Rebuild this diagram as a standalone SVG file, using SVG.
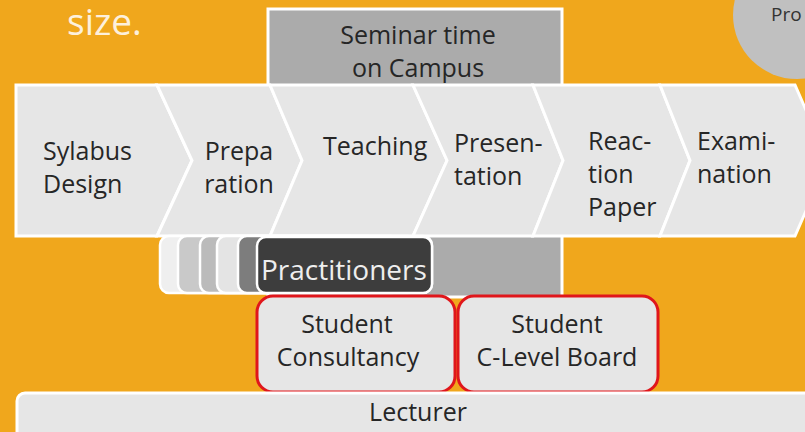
<svg xmlns="http://www.w3.org/2000/svg" width="805" height="432" viewBox="0 0 805 432">
<style>
  text { font-family: "Open Sans", "Noto Sans", "DejaVu Sans", sans-serif; fill: #262626; }
  .lbl { font-size: 25px; }
  .chev { fill: #E6E6E6; stroke: #FFFFFF; stroke-width: 3; stroke-linejoin: miter; }
  .stack { stroke: #FFFFFF; stroke-width: 2.5; }
  .red { fill: #E6E6E6; stroke: #E0161B; stroke-width: 3; }
</style>
<rect x="0" y="0" width="805" height="432" fill="#F0A71C"/>
<g id="title">
  <text x="67" y="35" style="font-size:37px; fill:#FDF0DC;">size.</text>
</g>
<g id="pro-circle">
  <circle cx="797" cy="15" r="64" fill="#C0C0C0"/>
  <text x="771" y="21" style="font-size:19px; fill:#333333;">Pro</text>
</g>
<g id="seminar">
  <rect x="268" y="9" width="294" height="288" fill="#ABABAB" stroke="#FFFFFF" stroke-width="3"/>
  <text class="lbl" x="418" y="44" text-anchor="middle">Seminar time</text>
  <text class="lbl" x="418" y="77" text-anchor="middle">on Campus</text>
</g>
<g id="process">
  <g id="sylabus">
    <path class="chev" d="M16,85 L157,85 L192,160.5 L157,236 L16,236 Z"/>
    <text class="lbl" x="43" y="160">Sylabus</text>
    <text class="lbl" x="43" y="193">Design</text>
  </g>
  <g id="preparation">
    <path class="chev" d="M157,85 L270,85 L302,160.5 L270,236 L157,236 L192,160.5 Z"/>
    <text class="lbl" x="239" y="160" text-anchor="middle">Prepa</text>
    <text class="lbl" x="239" y="193" text-anchor="middle">ration</text>
  </g>
  <g id="teaching">
    <path class="chev" d="M270,85 L413,85 L447,160.5 L413,236 L270,236 L302,160.5 Z"/>
    <text class="lbl" x="323" y="155">Teaching</text>
  </g>
  <g id="presentation">
    <path class="chev" d="M413,85 L533,85 L563,160.5 L533,236 L413,236 L447,160.5 Z"/>
    <text class="lbl" x="454" y="152">Presen-</text>
    <text class="lbl" x="454" y="185">tation</text>
  </g>
  <g id="reaction-paper">
    <path class="chev" d="M533,85 L660,85 L690,160.5 L660,236 L533,236 L563,160.5 Z"/>
    <text class="lbl" x="588" y="150">Reac-</text>
    <text class="lbl" x="588" y="183">tion</text>
    <text class="lbl" x="588" y="216">Paper</text>
  </g>
  <g id="examination">
    <path class="chev" d="M660,85 L795,85 L828,160.5 L795,236 L660,236 L690,160.5 Z"/>
    <text class="lbl" x="697" y="150">Exami-</text>
    <text class="lbl" x="697" y="183">nation</text>
  </g>
</g>
<g id="practitioners">
  <rect class="stack" x="160" y="236" width="200" height="57" rx="9" fill="#EFEFEF"/>
  <rect class="stack" x="178" y="236" width="200" height="57" rx="9" fill="#C9C9C9"/>
  <rect class="stack" x="200" y="236" width="200" height="57" rx="9" fill="#BBBBBB"/>
  <rect class="stack" x="217" y="236" width="200" height="57" rx="9" fill="#E4E4E4"/>
  <rect class="stack" x="238" y="236" width="194" height="57" rx="9" fill="#7D7D7D"/>
  <rect class="stack" x="257" y="237" width="175" height="56" rx="9" fill="#3D3D3D"/>
  <text x="261" y="280" style="font-size:28px; fill:#EEEEEE;">Practitioners</text>
</g>
<g id="student-consultancy">
  <rect class="red" x="257" y="296" width="198" height="96" rx="16"/>
  <text class="lbl" x="347" y="333" text-anchor="middle">Student</text>
  <text class="lbl" x="348" y="366" text-anchor="middle">Consultancy</text>
</g>
<g id="student-board">
  <rect class="red" x="458" y="296" width="200" height="96" rx="16"/>
  <text class="lbl" x="557" y="333" text-anchor="middle">Student</text>
  <text class="lbl" x="557" y="366" text-anchor="middle">C-Level Board</text>
</g>
<g id="lecturer">
  <rect x="17" y="393" width="800" height="60" rx="8" fill="#E6E6E6" stroke="#FFFFFF" stroke-width="3"/>
  <text class="lbl" x="418" y="421" text-anchor="middle">Lecturer</text>
</g>
<g id="connectors"/>
</svg>
